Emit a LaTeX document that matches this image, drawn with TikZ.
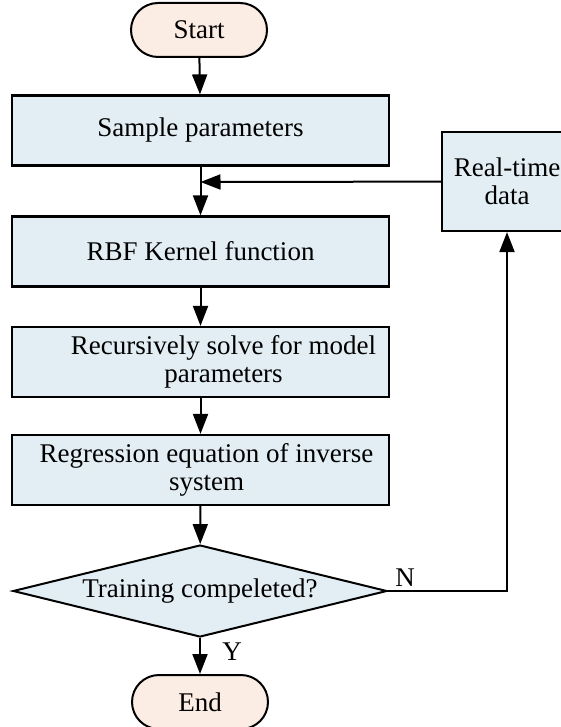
\documentclass[tikz,border=0pt]{standalone}
\usepackage{fontspec}
\setmainfont{Liberation Serif}
\usepackage{xcolor}
\usetikzlibrary{arrows.meta,shapes.misc,shapes.geometric}
\definecolor{boxfill}{RGB}{227,238,244}
\definecolor{endfill}{RGB}{251,237,228}

\begin{document}
\begin{tikzpicture}[x=1pt,y=-1pt,
  font=\fontsize{27}{28}\selectfont,
  stepbox/.style={draw,line width=2.2pt,fill=boxfill,rectangle,
    minimum width=377pt,minimum height=70pt,align=center,inner sep=0pt},
  termbox/.style={draw,line width=2pt,fill=endfill,rounded rectangle,
    minimum width=136pt,minimum height=54pt,inner sep=0pt},
  flow/.style={line width=2pt,-{Triangle[length=20pt,width=15pt]}}]
\useasboundingbox (0,0) rectangle (561,727);
\node[termbox] (start) at (199,30) {Start};
\node[stepbox] (sample) at (200.5,130.5) {Sample parameters};
\node[stepbox] (rbf) at (200.5,251.5) {RBF Kernel function};
\node[stepbox] (recur) at (200.5,362) {\hspace*{46pt}Recursively solve for model\\\hspace*{46pt}parameters};
\node[stepbox] (regr) at (200.5,470) {\hspace*{12pt}Regression equation of inverse\\\hspace*{12pt}system};
\node[draw,line width=2pt,fill=boxfill,diamond,aspect=4,inner sep=0pt,
  minimum width=374pt,minimum height=92pt] (check) at (200,591) {Training compeleted?};
\node[termbox] (end) at (200,702) {End};
\node[draw,line width=2.2pt,fill=boxfill,rectangle,minimum width=130pt,
  minimum height=99pt,align=center,inner sep=0pt] (realtime) at (507,181.5) {Real-time\\data};
\coordinate (join) at (200.5,182);
\coordinate (turn) at (507,591);
\node (nlabel) at (405,578) {N};
\node (ylabel) at (232,652) {Y};

\draw[flow] (start) -- (sample);
\draw[flow] (sample) -- (rbf);
\draw[flow] (realtime) -- (join);
\draw[flow] (rbf) -- (recur);
\draw[flow] (recur) -- (regr);
\draw[flow] (regr) -- (check);
\draw[flow] (check) -- (end);
\draw[flow] (check.east) -- (turn) -- (realtime.south);
\end{tikzpicture}
\end{document}
